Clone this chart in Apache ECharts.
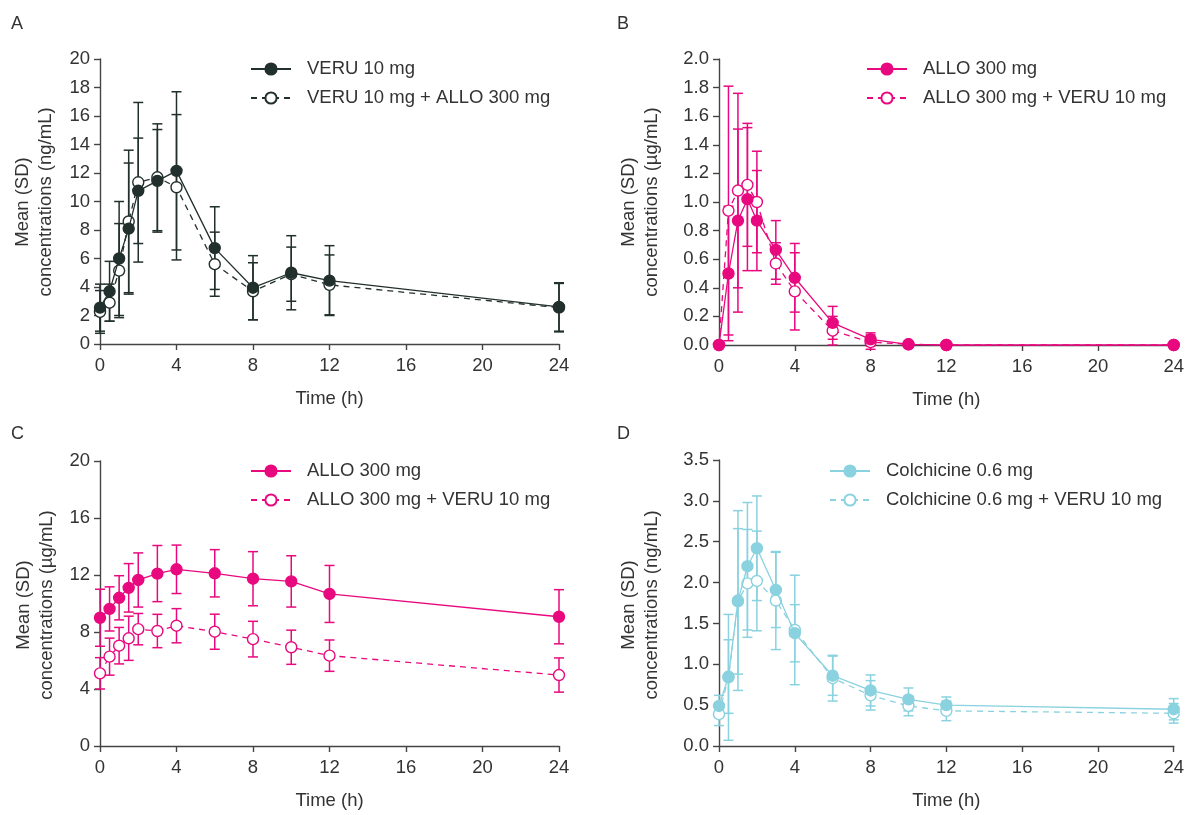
<!DOCTYPE html>
<html>
<head>
<meta charset="utf-8">
<title>PK profiles</title>
<script src="https://cdn.jsdelivr.net/npm/echarts@6/dist/echarts.min.js"></script>
<style>
  html, body { margin: 0; padding: 0; background: #fff; }
  #chart { width: 1187px; height: 815px; }
</style>
</head>
<body>
<div id="chart"></div>
<script>
// sampling times (h)
const times = [0, 0.5, 1, 1.5, 2, 3, 4, 6, 8, 10, 12, 24]

// A: VERU plasma levels (ng/mL)
const veruMean = [2.55, 3.7, 6.0, 8.1, 10.75, 11.45, 12.15, 6.73, 3.95, 5.0, 4.45, 2.6]
const veruSd = [1.65, 2.1, 4.0, 4.6, 3.7, 3.6, 5.55, 2.9, 2.25, 2.6, 2.45, 1.7]
const veruAlloMean = [2.25, 2.9, 5.15, 8.6, 11.35, 11.7, 11.0, 5.6, 3.7, 4.9, 4.15, 2.55]
const veruAlloSd = [1.5, 1.3, 3.3, 5.0, 5.6, 3.75, 5.1, 2.25, 2.0, 1.9, 2.1, 1.7]

// B: ALLO (µg/mL)
const alloMean = [0, 0.5, 0.87, 1.02, 0.87, 0.665, 0.47, 0.155, 0.04, 0.005, 0, 0]
const alloSd = [0, 0.47, 0.64, 0.5, 0.35, 0.205, 0.24, 0.115, 0.045, 0, 0, 0]
const alloVeruMean = [0, 0.94, 1.08, 1.12, 1.0, 0.57, 0.375, 0.1, 0.02, 0.005, 0, 0]
const alloVeruSd = [0, 0.87, 0.68, 0.43, 0.355, 0.145, 0.27, 0.1, 0.05, 0, 0, 0]

// C: second ALLO analyte (µg/mL)
const alloCMean = [9.0, 9.62, 10.4, 11.1, 11.65, 12.1, 12.4, 12.12, 11.74, 11.55, 10.67, 9.07]
const alloCSd = [2.0, 1.55, 1.55, 1.7, 1.9, 1.97, 1.7, 1.66, 1.9, 1.8, 2.0, 1.9]
const alloVeruCMean = [5.1, 6.27, 7.04, 7.56, 8.2, 8.07, 8.44, 8.02, 7.5, 6.93, 6.34, 4.98]
const alloVeruCSd = [1.1, 1.3, 1.28, 1.55, 1.1, 1.17, 1.2, 1.23, 1.25, 1.2, 1.1, 1.2]

// D: colchicine (ng/mL)
const colchMean = [0.49, 0.85, 1.78, 2.2, 2.42, 1.91, 1.38, 0.86, 0.68, 0.57, 0.5, 0.45]
const colchSd = [0.13, 0.45, 1.1, 0.78, 0.64, 0.46, 0.35, 0.24, 0.19, 0.14, 0.1, 0.13]
const colchVeruMean = [0.39, 0.84, 1.77, 1.99, 2.02, 1.78, 1.42, 0.83, 0.62, 0.49, 0.43, 0.4]
const colchVeruSd = [0.14, 0.77, 0.89, 0.66, 0.61, 0.6, 0.67, 0.28, 0.18, 0.12, 0.12, 0.12]

const xTicks = [0, 4, 8, 12, 16, 20, 24]

const DARK = '#22302d'
const PINK = '#e8097f'
const CYAN = '#8ad2df'
const FONT = '"Liberation Sans", Arial, sans-serif'
const FS = 18.5
const TXT = '#333'

const grids = [
  { left: 100, top: 59, width: 459, height: 285 },
  { left: 719, top: 59, width: 457, height: 286 },
  { left: 100, top: 461, width: 459, height: 285 },
  { left: 719, top: 460, width: 457, height: 286 }
]

function xAxis(i) {
  return {
    type: 'value', gridIndex: i, min: 0, max: 24, interval: 4,
    name: 'Time (h)', nameLocation: 'middle', nameGap: 45,
    nameTextStyle: { fontSize: FS, color: TXT, fontFamily: FONT },
    axisLine: { show: true, lineStyle: { color: '#444', width: 1.4 } },
    axisTick: { show: true, length: 6, lineStyle: { color: '#444', width: 1.4 } },
    axisLabel: { fontSize: FS, color: TXT, fontFamily: FONT, margin: 12,
      customValues: xTicks },
    splitLine: { show: false }
  }
}

function yAxis(i, max, interval, digits) {
  return {
    type: 'value', gridIndex: i, min: 0, max, interval,
    axisLine: { show: true, lineStyle: { color: '#444', width: 1.4 } },
    axisTick: { show: true, length: 6, lineStyle: { color: '#444', width: 1.4 } },
    axisLabel: { fontSize: FS, color: TXT, fontFamily: FONT, margin: 10,
      formatter: (v) => v.toFixed(digits) },
    splitLine: { show: false }
  }
}

function errorBars(name, mean, sd, color, idx) {
  return {
    type: 'custom', name: name + ' (SD)', xAxisIndex: idx, yAxisIndex: idx,
    silent: true, clip: false, z: 1,
    data: times.map((t, i) => [t, mean[i] - sd[i], mean[i] + sd[i]]),
    encode: { x: 0, y: [1, 2] },
    renderItem: (params, api) => {
      const lo = api.coord([api.value(0), api.value(1)])
      const hi = api.coord([api.value(0), api.value(2)])
      if (Math.abs(hi[1] - lo[1]) < 1) return null
      const w = 5
      const style = { stroke: color, lineWidth: 1.5 }
      return {
        type: 'group',
        children: [
          { type: 'line', shape: { x1: lo[0], y1: lo[1], x2: hi[0], y2: hi[1] }, style },
          { type: 'line', shape: { x1: lo[0] - w, y1: lo[1], x2: lo[0] + w, y2: lo[1] }, style },
          { type: 'line', shape: { x1: hi[0] - w, y1: hi[1], x2: hi[0] + w, y2: hi[1] }, style }
        ]
      }
    }
  }
}

function meanLine(name, mean, color, idx, open) {
  return {
    type: 'line', name, xAxisIndex: idx, yAxisIndex: idx,
    clip: false, z: open ? 3 : 4,
    data: times.map((t, i) => [t, mean[i]]),
    symbol: 'circle', symbolSize: 11, showAllSymbol: true,
    lineStyle: { color, width: 1.3, type: open ? [6, 5] : 'solid' },
    itemStyle: { color: open ? '#fff' : color, borderColor: color, borderWidth: 1.4 }
  }
}

const panels = [
  { a: ['VERU 10 mg', veruMean, veruSd], b: ['VERU 10 mg + ALLO 300 mg', veruAlloMean, veruAlloSd], color: DARK },
  { a: ['ALLO 300 mg', alloMean, alloSd], b: ['ALLO 300 mg + VERU 10 mg', alloVeruMean, alloVeruSd], color: PINK },
  { a: ['ALLO 300 mg', alloCMean, alloCSd], b: ['ALLO 300 mg + VERU 10 mg', alloVeruCMean, alloVeruCSd], color: PINK },
  { a: ['Colchicine 0.6 mg', colchMean, colchSd], b: ['Colchicine 0.6 mg + VERU 10 mg', colchVeruMean, colchVeruSd], color: CYAN }
]

const series = []
panels.forEach((p, i) => {
  series.push(errorBars(p.a[0], p.a[1], p.a[2], p.color, i))
  series.push(errorBars(p.b[0], p.b[1], p.b[2], p.color, i))
  series.push(meanLine(p.b[0], p.b[1], p.color, i, true))
  series.push(meanLine(p.a[0], p.a[1], p.color, i, false))
})

const legendPos = [[250, 59], [866, 59], [250, 461], [829, 461]]
const legend = panels.map((p, i) => ({
  orient: 'vertical', left: legendPos[i][0], top: legendPos[i][1],
  padding: 0, itemWidth: 40, itemHeight: 14, itemGap: 9, selectedMode: false,
  data: [p.a[0], p.b[0]],
  textStyle: { fontSize: FS, color: TXT, fontFamily: FONT, lineHeight: 20, padding: [0, 0, 0, 11] }
}))

const yNames = [
  ['concentrations (ng/mL)', 34, 202],
  ['concentrations (µg/mL)', 640, 202],
  ['concentrations (µg/mL)', 35, 605],
  ['concentrations (ng/mL)', 640, 605]
]
const letters = [['A', 11, 15], ['B', 617, 15], ['C', 11, 425], ['D', 617, 425]]

const graphic = []
yNames.forEach(([unit, x, y]) => {
  graphic.push({
    type: 'text', x, y, rotation: Math.PI / 2,
    style: { text: 'Mean (SD)\n' + unit, fill: TXT, font: FS + 'px ' + FONT,
      align: 'center', verticalAlign: 'middle', lineHeight: 23 }
  })
})
letters.forEach(([t, x, y]) => {
  graphic.push({ type: 'text', x, y, style: { text: t, fill: TXT, font: '18px ' + FONT } })
})

const chart = echarts.init(document.getElementById('chart'))
chart.setOption({
  backgroundColor: '#fff',
  animation: false,
  grid: grids,
  xAxis: grids.map((g, i) => xAxis(i)),
  yAxis: [yAxis(0, 20, 2, 0), yAxis(1, 2, 0.2, 1), yAxis(2, 20, 4, 0), yAxis(3, 3.5, 0.5, 1)],
  legend,
  graphic,
  series
})
</script>
</body>
</html>
